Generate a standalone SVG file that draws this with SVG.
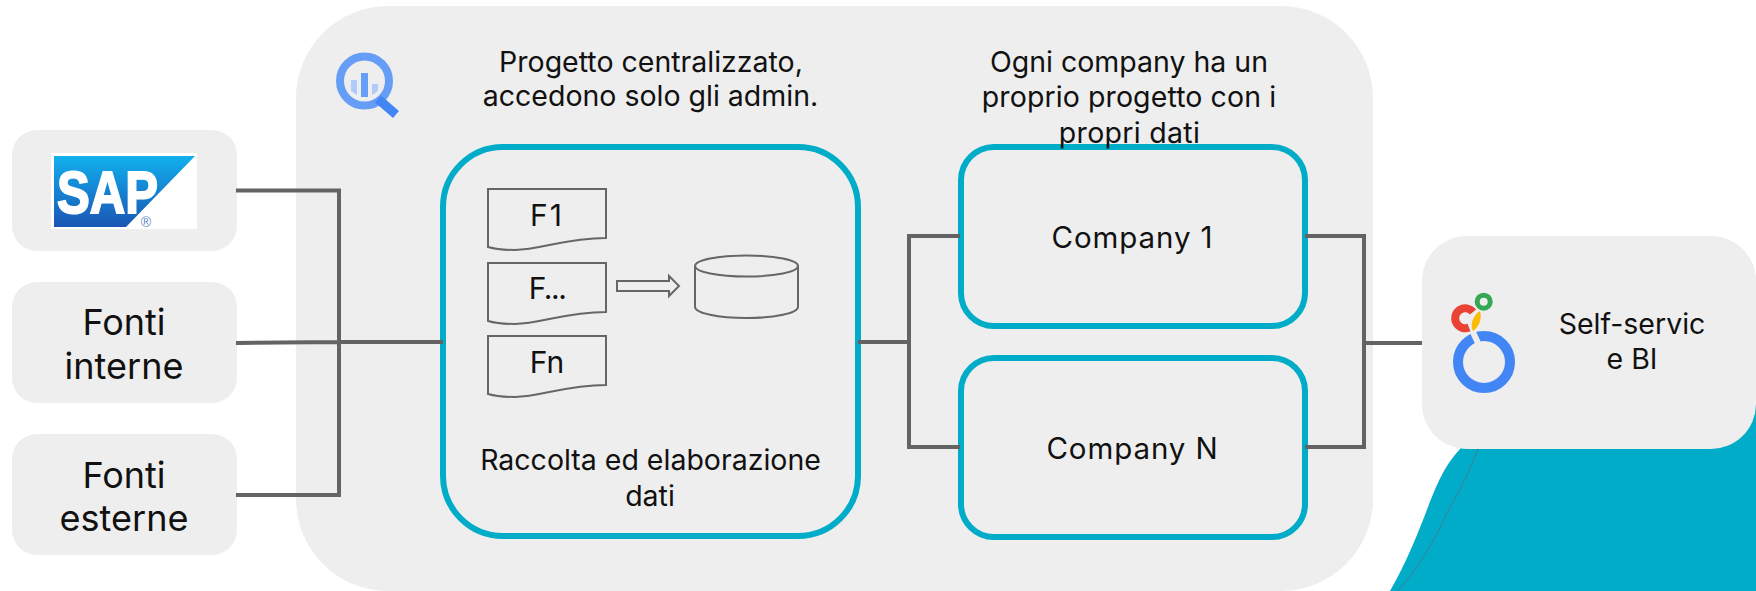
<svg xmlns="http://www.w3.org/2000/svg" width="1756" height="591" viewBox="0 0 1756 591">
<style>
text{font-family:"Inter","Liberation Sans",sans-serif;fill:#111;text-anchor:middle}
.t{font-size:28.500px}.co{font-size:29.500px;letter-spacing:.9px}.s{font-size:36px}.d{font-size:30px}
.c{fill:none;stroke:#636363;stroke-width:4}
.g{fill:#eee}
.b{fill:#eee;stroke:#00acc8;stroke-width:6}
.o{fill:none;stroke:#666;stroke-width:2}
</style>
<defs><linearGradient id="sg" x1="0" y1="0" x2="0" y2="1"><stop offset="0" stop-color="#12b0ee"/><stop offset="1" stop-color="#1a55b4"/></linearGradient></defs>
<path id="wave" d="M1390 591C1405 565 1415 540 1423 520C1431 500 1440 470 1460 449L1470 400H1756V591Z" fill="#00acc8"/>
<path d="M1398 591C1420 565 1435 540 1447 513C1460 490 1470 470 1478 449" fill="none" stroke="#3f7f95" stroke-width="1"/>
<rect id="panel" class="g" x="296" y="6" width="1077" height="585" rx="92"/>
<g id="sap"><rect class="g" x="12" y="130" width="225" height="121" rx="25"/>
<rect x="51" y="153" width="146" height="76" fill="#fff"/>
<path d="M54 156H195L126 227H54Z" fill="url(#sg)"/>
<text x="57" y="213" textLength="101" lengthAdjust="spacingAndGlyphs" style="font-family:'Liberation Sans',sans-serif;font-weight:700;font-size:60px;fill:#fff;stroke:#fff;stroke-width:2px;text-anchor:start">SAP</text>
<text x="146" y="227" style="font-family:'Liberation Sans',sans-serif;font-size:14px;fill:#5a85c5">®</text></g>
<g id="interne"><rect class="g" x="12" y="282" width="225" height="121" rx="25"/><text class="s" x="124" y="335">Fonti</text><text class="s" x="124" y="379">interne</text></g>
<g id="esterne"><rect class="g" x="12" y="434" width="225" height="121" rx="25"/><text class="s" x="124" y="488">Fonti</text><text class="s" x="124" y="531">esterne</text></g>
<g id="bq">
<circle cx="364.500" cy="81" r="24.500" fill="none" stroke="#669df6" stroke-width="8"/>
<path d="M378 99L396 114.500" stroke="#4285f4" stroke-width="9" fill="none"/>
<rect x="361" y="73" width="7" height="24" fill="#669df6"/>
<path d="M351 80h6v15l-6-4Z" fill="#aecbfa"/><path d="M372 84h6v7l-6 4Z" fill="#aecbfa"/></g>
<text class="t" x="651" y="72">Progetto centralizzato,</text>
<text class="t" x="650.500" y="106">accedono solo gli admin.</text>
<g id="main"><rect class="b" x="443" y="147" width="415" height="389" rx="60"/>
<text class="t" x="650.500" y="470">Raccolta ed elaborazione</text><text class="t" x="650" y="506">dati</text></g>
<g id="f1"><path class="o" d="M488 189H606V238C565 238 540 250 515 250C505 250 495 249 488 247Z"/><text class="d" x="547" y="226" style="letter-spacing:2px">F1</text></g>
<g id="f2"><path class="o" d="M488 263H606V312C565 312 540 324 515 324C505 324 495 323 488 321Z"/><text class="d" x="547" y="299" style="letter-spacing:-1.500px">F...</text></g>
<g id="f3"><path class="o" d="M488 336H606V385C565 385 540 397 515 397C505 397 495 396 488 394Z"/><text class="d" x="547" y="373">Fn</text></g>
<path id="arrow" class="o" d="M617 281H669V276L679 286L669 296V291H617Z"/>
<g id="db"><path class="o" d="M695 266V307C695 313 718 318 746.500 318S798 313 798 307V266"/><ellipse class="o" cx="746.500" cy="266" rx="51.500" ry="10.500"/></g>
<text class="t" x="1129" y="72">Ogni company ha un</text>
<text class="t" x="1129" y="107" style="letter-spacing:.1px">proprio progetto con i</text>
<g id="c1"><rect class="b" x="961" y="147" width="344" height="179" rx="33"/><text class="co" x="1132.500" y="248">Company 1</text></g>
<g id="cn"><rect class="b" x="961" y="358" width="344" height="179" rx="33"/><text class="co" x="1132.500" y="459">Company N</text></g>
<text class="t" x="1129.500" y="143" style="letter-spacing:.3px">propri dati</text>
<g id="connectors">
<path class="c" d="M236 190.500H339V495H236M236 343L339 342H443M858 342H909M960 236H909V447H960M1305 236H1364V447H1305M1364 343H1423"/>
</g>
<g id="bi"><rect class="g" x="1422" y="236" width="334" height="213" rx="45"/>
<circle cx="1484" cy="362" r="26" fill="none" stroke="#4285f4" stroke-width="10"/>
<path d="M1472 330L1478 343" stroke="#eee" stroke-width="6"/>
<path d="M1473 312A10 10 0 1 0 1469 327.500" fill="none" stroke="#ea4335" stroke-width="8"/>
<circle cx="1483.700" cy="301.700" r="6.500" fill="none" stroke="#34a853" stroke-width="5"/>
<path d="M1480 311C1482 318 1480 326 1473 331C1470 326 1472 316 1480 311Z" fill="#fbbc04"/>
<text class="t" x="1632" y="334">Self-servic</text><text class="t" x="1632" y="369">e BI</text></g>
</svg>
